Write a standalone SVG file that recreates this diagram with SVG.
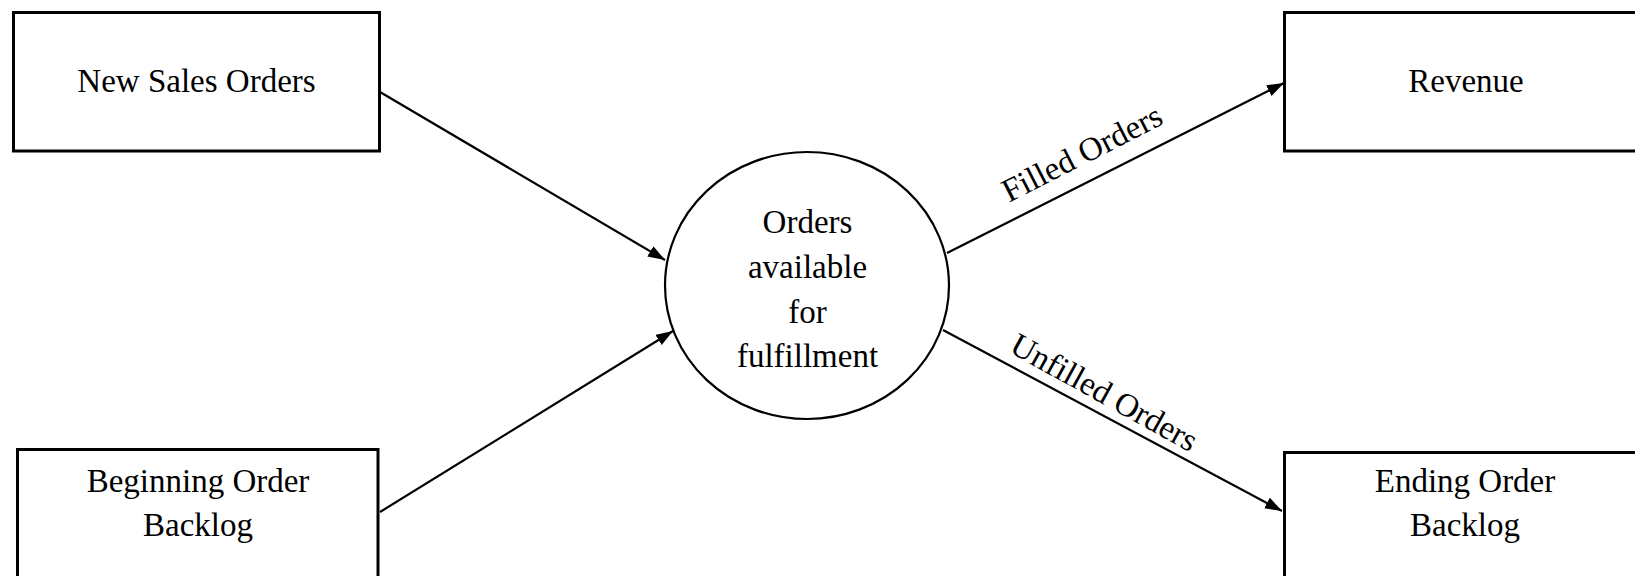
<svg xmlns="http://www.w3.org/2000/svg" width="1635" height="576" viewBox="0 0 1635 576">
<style>
.box{fill:#fff;stroke:#000;stroke-width:3}
.circ{fill:#fff;stroke:#000;stroke-width:2.2}
.t{font-family:"Liberation Serif","Times New Roman",serif;font-size:33px;fill:#000;text-anchor:middle}
.edge{stroke:#000;stroke-width:2.2;fill:none;marker-end:url(#ah)}
</style>
<defs>
<marker id="ah" markerUnits="userSpaceOnUse" markerWidth="18" markerHeight="14" refX="17" refY="6" orient="auto">
<path d="M0,0 L17,6 L0,12 z" fill="#000"/>
</marker>
</defs>
<rect width="1635" height="576" fill="#fff"/>
<g id="connectors">
<line class="edge" x1="380" y1="92" x2="665" y2="260"/>
<line class="edge" x1="380" y1="512" x2="673" y2="331"/>
<line class="edge" x1="947" y1="253" x2="1284" y2="83"/>
<line class="edge" x1="943" y1="330" x2="1282" y2="511"/>
<text class="t" x="1087" y="163" transform="rotate(-27 1087 163)">Filled Orders</text>
<text class="t" x="1099" y="402" transform="rotate(29 1099 402)">Unfilled Orders</text>
</g>
<g id="new-sales-orders">
<rect class="box" x="13.5" y="12.5" width="366" height="138.5"/>
<text class="t" x="196.5" y="92">New Sales Orders</text>
</g>
<g id="beginning-order-backlog">
<rect class="box" x="17.5" y="449.5" width="360.5" height="150"/>
<text class="t" x="198" y="492">Beginning Order</text>
<text class="t" x="198" y="536">Backlog</text>
</g>
<g id="orders-available">
<ellipse class="circ" cx="807" cy="285.5" rx="142" ry="133.5"/>
<text class="t" x="807.5" y="233">Orders</text>
<text class="t" x="807.5" y="278">available</text>
<text class="t" x="807.5" y="323">for</text>
<text class="t" x="807.5" y="367">fulfillment</text>
</g>
<g id="revenue">
<rect class="box" x="1284.5" y="12.5" width="364" height="138.5"/>
<text class="t" x="1466" y="92">Revenue</text>
</g>
<g id="ending-order-backlog">
<rect class="box" x="1284.5" y="452.5" width="364" height="150"/>
<text class="t" x="1465" y="492">Ending Order</text>
<text class="t" x="1465" y="536">Backlog</text>
</g>
</svg>
